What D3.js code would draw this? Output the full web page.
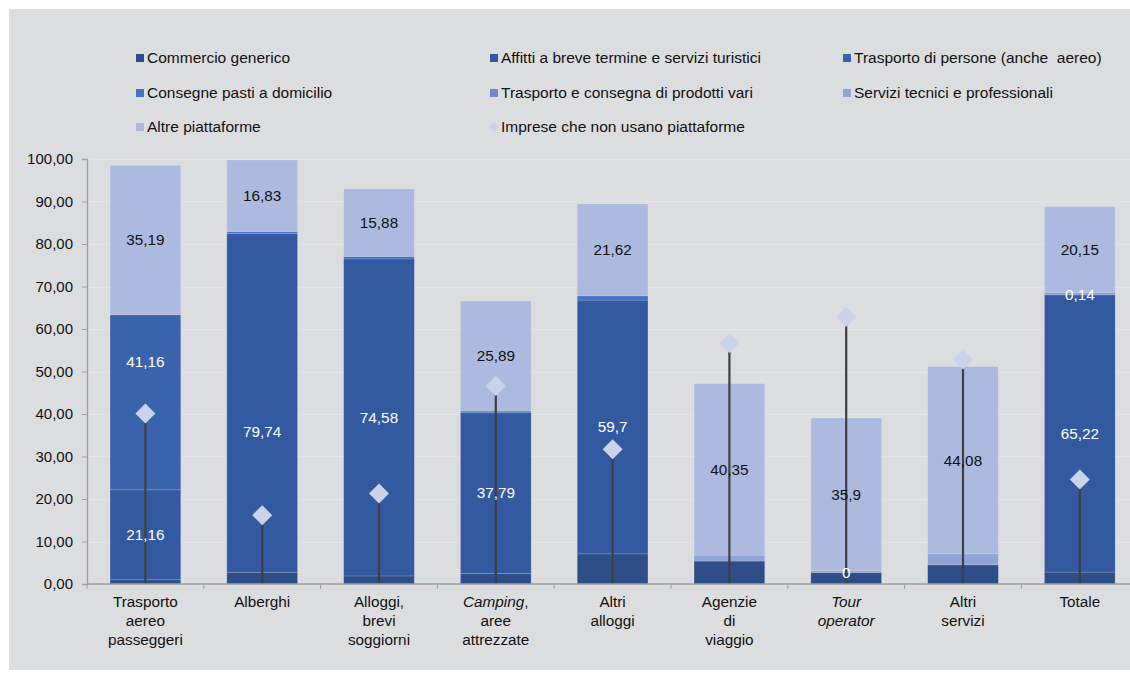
<!DOCTYPE html>
<html>
<head>
<meta charset="utf-8">
<script src="https://cdn.jsdelivr.net/npm/d3@7"></script>
<style>
  html, body { margin: 0; padding: 0; background: #ffffff; }
  svg { display: block; font-family: "Liberation Sans", Arial, sans-serif; }
  text { white-space: pre; }
</style>
</head>
<body>
<svg id="chart" width="1130" height="676"></svg>
<script>
// ---------------- DATA ----------------
const categories = [
  "Trasporto aereo passeggeri", "Alberghi", "Alloggi, brevi soggiorni",
  "Camping, aree attrezzate", "Altri alloggi", "Agenzie di viaggio",
  "Tour operator", "Altri servizi", "Totale"
];
// label lines; "*" prefix = italic part
const categoryLines = [
  [["Trasporto"], ["aereo"], ["passeggeri"]],
  [["Alberghi"]],
  [["Alloggi,"], ["brevi"], ["soggiorni"]],
  [["*Camping", ","], ["aree"], ["attrezzate"]],
  [["Altri"], ["alloggi"]],
  [["Agenzie"], ["di"], ["viaggio"]],
  [["*Tour"], ["*operator"]],
  [["Altri"], ["servizi"]],
  [["Totale"]]
];
const seriesNames = [
  "Commercio generico",
  "Affitti a breve termine e servizi turistici",
  "Trasporto di persone (anche  aereo)",
  "Consegne pasti a domicilio",
  "Trasporto e consegna di prodotti vari",
  "Servizi tecnici e professionali",
  "Altre piattaforme"
];
const commercio        = [1.0, 2.75, 1.9, 2.5, 7.1, 5.4, 2.7, 4.5, 2.8];
const affitti          = [21.16, 79.74, 74.58, 37.79, 59.7, 0, 0, 0, 65.22];
const trasportoPersone = [41.16, 0, 0, 0, 0, 0, 0, 0, 0];
const consegnePasti    = [0, 0.45, 0.6, 0.4, 1.0, 0, 0, 0, 0.14];
const trasportoProdotti= [0, 0, 0, 0, 0, 0, 0, 0, 0.3];
const serviziTecnici   = [0, 0, 0, 0, 0, 1.4, 0.45, 2.6, 0.2];
const altrePiattaforme = [35.19, 16.83, 15.88, 25.89, 21.62, 40.35, 35.9, 44.08, 20.15];
const nonUsano         = [40.1, 16.2, 21.3, 46.6, 31.7, 56.7, 62.8, 52.8, 24.6];
const nonUsanoName = "Imprese che non usano piattaforme";

// which segment values carry a data label (true = show)
const labelAffitti   = [true, true, true, true, true, false, true, false, true];
const labelTrasporto = [true, false, false, false, false, false, false, false, false];
const labelConsegne  = [false, false, false, false, false, false, false, false, true];
const labelAltre     = [true, true, true, true, true, true, true, true, true];

const yTicks = [0, 10, 20, 30, 40, 50, 60, 70, 80, 90, 100];

// ---------------- STYLE ----------------
const seriesValues = [commercio, affitti, trasportoPersone, consegnePasti, trasportoProdotti, serviziTecnici, altrePiattaforme];
const seriesLabels = [null, labelAffitti, labelTrasporto, labelConsegne, null, null, labelAltre];
const colors = ["#2E4E8A", "#3359A0", "#3963AB", "#4472C4", "#6A8BD0", "#8FA5D7", "#ADBADF"];
const labelColors = ["#fff", "#fff", "#fff", "#fff", "#fff", "#000", "#111"];
const diamondColor = "#CAD3EA";
const bg = "#DCDDDF";
const FS = 15;

const svg = d3.select("#chart");
svg.append("rect").attr("x", 9).attr("y", 9).attr("width", 1125).attr("height", 661).attr("fill", bg);

const x0 = 87, step = 116.8;
const x = d3.scaleBand().domain(d3.range(categories.length))
  .range([x0, x0 + step * categories.length]).paddingInner(0.395).paddingOuter(0.1975);
const y = d3.scaleLinear().domain([0, 100]).range([584, 159]);

const it = d3.formatLocale({decimal: ",", thousands: ".", grouping: [3], currency: ["€", ""]});
const fmt2 = it.format(".2f");

// gridlines
svg.append("g").selectAll("line").data(yTicks.filter(d => d > 0)).join("line")
  .attr("x1", x0).attr("x2", 1130).attr("y1", d => Math.round(y(d)) + 0.5).attr("y2", d => Math.round(y(d)) + 0.5)
  .attr("stroke", "#E4E4E6").attr("stroke-width", 1);

// stacks
const table = categories.map((c, i) => {
  const o = {i};
  seriesValues.forEach((arr, s) => o["s" + s] = arr[i]);
  return o;
});
const stack = d3.stack().keys(seriesValues.map((_, s) => "s" + s));
const stacked = stack(table);

const gBars = svg.append("g");
stacked.forEach((layer, s) => {
  gBars.append("g").selectAll("rect").data(layer.filter(d => d[1] - d[0] > 0)).join("rect")
    .attr("x", d => x(d.data.i))
    .attr("width", x.bandwidth())
    .attr("y", d => y(d[1]))
    .attr("height", d => y(d[0]) - y(d[1]))
    .attr("fill", colors[s])
    .attr("stroke", "rgba(255,255,255,0.18)")
    .attr("stroke-width", 0.8);
});

// drop lines + diamonds
const gD = svg.append("g");
gD.selectAll("line").data(nonUsano).join("line")
  .attr("x1", (d, i) => x(i) + x.bandwidth() / 2)
  .attr("x2", (d, i) => x(i) + x.bandwidth() / 2)
  .attr("y1", y(0)).attr("y2", d => y(d))
  .attr("stroke", "#3F3F42").attr("stroke-width", 2.2);

// data labels
const nudge = {"2-0": 9.5, "1-1": -6.8}; // manual placement tweaks (series-category) in value units
const gL = svg.append("g");
stacked.forEach((layer, s) => {
  const show = seriesLabels[s];
  if (!show) return;
  layer.forEach((d, i) => {
    if (!show[i]) return;
    const v = seriesValues[s][i];
    const mid = (d[0] + d[1]) / 2 + (nudge[s + "-" + i] || 0);
    gL.append("text")
      .attr("x", x(i) + x.bandwidth() / 2)
      .attr("y", y(mid))
      .attr("dy", "0.35em")
      .attr("text-anchor", "middle")
      .attr("font-size", FS + 0.3)
      .attr("fill", labelColors[s])
      .text(String(v).replace(".", ","));
  });
});

gD.selectAll("path").data(nonUsano).join("path")
  .attr("transform", (d, i) => `translate(${x(i) + x.bandwidth() / 2},${y(d)})`)
  .attr("d", "M0,-10L10,0L0,10L-10,0Z")
  .attr("fill", diamondColor);

// y axis
const yAxis = svg.append("g").attr("transform", `translate(${x0},0)`)
  .call(d3.axisLeft(y).tickValues(yTicks).tickFormat(fmt2).tickSize(5).tickPadding(9));
yAxis.select(".domain").attr("stroke", "#9E9E9E").attr("stroke-width", 1.3);
yAxis.selectAll(".tick line").attr("stroke", "#9E9E9E");
yAxis.selectAll(".tick text").attr("font-size", FS).attr("fill", "#111")
  .attr("font-family", "'Liberation Sans', Arial, sans-serif");

// x axis line and ticks
const gx = svg.append("g");
gx.append("line").attr("x1", x0).attr("x2", 1130).attr("y1", y(0)).attr("y2", y(0))
  .attr("stroke", "#9E9E9E").attr("stroke-width", 1.3);
gx.selectAll("line.t").data(d3.range(categories.length + 1)).join("line").attr("class", "t")
  .attr("x1", d => x0 + d * x.step()).attr("x2", d => x0 + d * x.step())
  .attr("y1", y(0)).attr("y2", y(0) + 5).attr("stroke", "#9E9E9E");

// category labels
categoryLines.forEach((lines, i) => {
  lines.forEach((parts, li) => {
    const t = svg.append("text")
      .attr("x", x(i) + x.bandwidth() / 2)
      .attr("y", 607 + li * 19)
      .attr("text-anchor", "middle")
      .attr("font-size", FS + 0.3).attr("fill", "#111");
    parts.forEach(p => {
      const ital = p.startsWith("*");
      t.append("tspan").attr("font-style", ital ? "italic" : "normal").text(ital ? p.slice(1) : p);
    });
  });
});

// legend
const legendItems = seriesNames.map((n, s) => ({name: n, color: colors[s], type: "sq"}))
  .concat([{name: nonUsanoName, color: diamondColor, type: "dm"}]);
const colX = [136, 490, 843], rowY = [58, 93, 127];
legendItems.forEach((d, k) => {
  const cx = colX[k % 3], cy = rowY[Math.floor(k / 3)];
  const g = svg.append("g");
  if (d.type === "sq") {
    g.append("rect").attr("x", cx).attr("y", cy - 4).attr("width", 8).attr("height", 8).attr("fill", d.color);
  } else {
    g.append("path").attr("transform", `translate(${cx + 4},${cy})`).attr("d", "M0,-5L5,0L0,5L-5,0Z").attr("fill", d.color);
  }
  g.append("text").attr("x", cx + 11).attr("y", cy).attr("dy", "0.35em")
    .attr("font-size", 15.5).attr("fill", "#111").text(d.name);
});
</script>
</body>
</html>
